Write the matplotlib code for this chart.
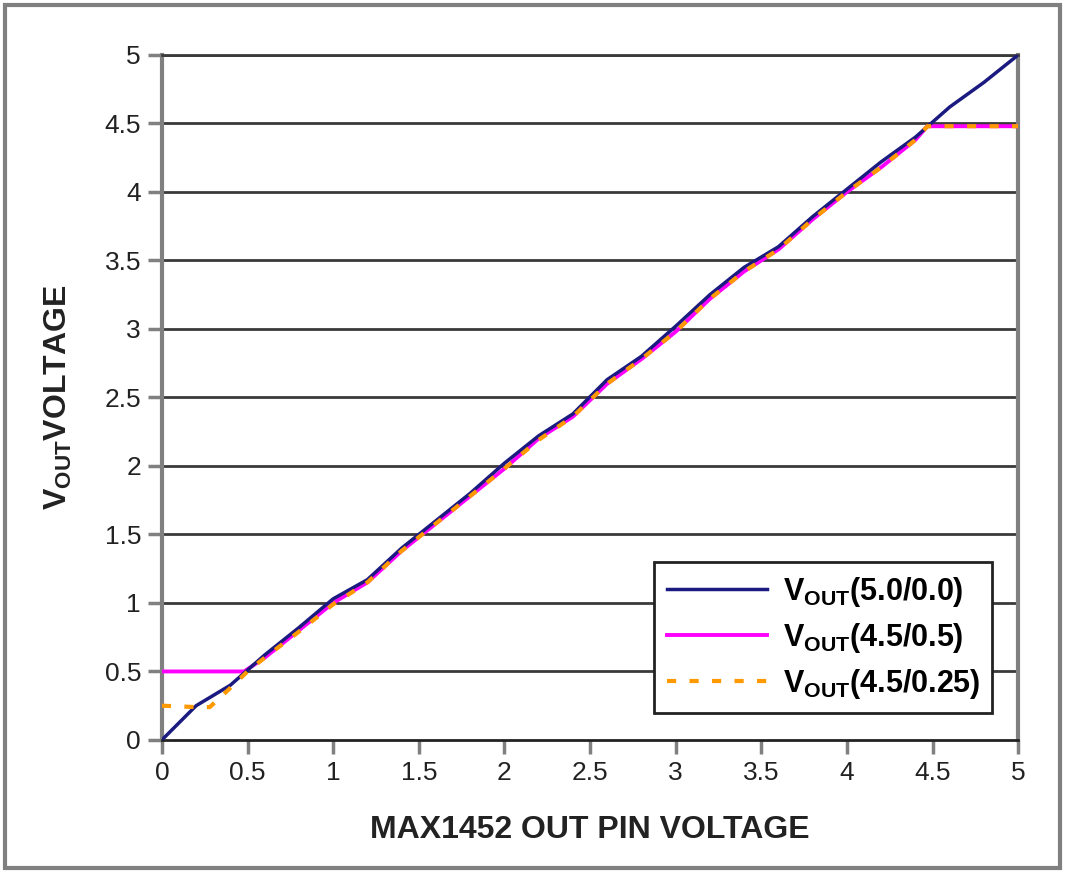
import matplotlib
matplotlib.use("Agg")
import matplotlib.pyplot as plt
from matplotlib.patches import Rectangle

plt.rcParams['font.family'] = ['Liberation Sans', 'DejaVu Sans']
plt.rcParams['mathtext.fontset'] = 'custom'
plt.rcParams['mathtext.rm'] = 'Liberation Sans'
plt.rcParams['mathtext.bf'] = 'Liberation Sans:bold'

# data
x_full = [0, 0.2, 0.4, 0.6, 0.8, 1.0, 1.2, 1.4, 1.6, 1.8, 2.0, 2.2, 2.4, 2.6,
          2.8, 3.0, 3.2, 3.4, 3.6, 3.8, 4.0, 4.2, 4.4, 4.6, 4.8, 5.0]
v_50_00 = [0, 0.25, 0.4, 0.62, 0.82, 1.03, 1.17, 1.4, 1.6, 1.8, 2.02, 2.22, 2.38, 2.63,
           2.8, 3.02, 3.25, 3.45, 3.6, 3.82, 4.02, 4.22, 4.4, 4.62, 4.8, 5.0]

x_mag = [0, 0.2, 0.4, 0.48, 0.6, 0.8, 1.0, 1.2, 1.4, 1.6, 1.8, 2.0, 2.2, 2.4, 2.6,
         2.8, 3.0, 3.2, 3.4, 3.6, 3.8, 4.0, 4.2, 4.4, 4.47, 4.6, 4.8, 5.0]
v_45_05 = [0.5, 0.5, 0.5, 0.5, 0.6, 0.8, 1.0, 1.15, 1.38, 1.58, 1.78, 1.98, 2.2, 2.36, 2.6,
           2.78, 2.98, 3.22, 3.42, 3.58, 3.8, 4.0, 4.18, 4.38, 4.48, 4.48, 4.48, 4.48]

x_org = [0, 0.2, 0.28, 0.4, 0.5, 0.6, 0.8, 1.0, 1.2, 1.4, 1.6, 1.8, 2.0, 2.2, 2.4, 2.6,
         2.8, 3.0, 3.2, 3.4, 3.6, 3.8, 4.0, 4.2, 4.4, 4.47, 4.6, 4.8, 5.0]
v_45_025 = [0.25, 0.24, 0.24, 0.38, 0.5, 0.6, 0.79, 0.99, 1.15, 1.38, 1.58, 1.78, 1.98, 2.19, 2.36, 2.6,
            2.78, 2.98, 3.22, 3.42, 3.58, 3.8, 4.0, 4.18, 4.38, 4.48, 4.48, 4.48, 4.48]

labels = [r'$\mathbf{V_{OUT}}$(5.0/0.0)', r'$\mathbf{V_{OUT}}$(4.5/0.5)', r'$\mathbf{V_{OUT}}$(4.5/0.25)']
ticks = [0, 0.5, 1, 1.5, 2, 2.5, 3, 3.5, 4, 4.5, 5]
tick_labels = ['0', '0.5', '1', '1.5', '2', '2.5', '3', '3.5', '4', '4.5', '5']

fig = plt.figure(figsize=(10.65, 8.73), dpi=100)
ax = fig.add_axes([0.152, 0.1524, 0.804, 0.7846])

for t in ticks[1:]:
    ax.axhline(t, color='#3a3a3a', lw=2, zorder=1)

ax.plot(x_mag, v_45_05, color='#ff00ff', lw=2.8, zorder=3, label=labels[1])
ax.plot(x_full, v_50_00, color='#1a1a80', lw=2.5, zorder=4, label=labels[0])
ax.plot(x_org, v_45_025, color='#ff9900', lw=3, ls=(0, (2.2, 3.2)), zorder=5, label=labels[2])

ax.set_xlim(0, 5)
ax.set_ylim(0, 5)
ax.set_xticks(ticks)
ax.set_xticklabels(tick_labels)
ax.set_yticks(ticks)
ax.set_yticklabels(tick_labels)
ax.tick_params(axis='both', direction='out', length=10, width=2.5, color='#808080',
               labelsize=19, labelcolor='#222222', pad=5)
for s in ['left', 'right']:
    ax.spines[s].set_color('#808080')
    ax.spines[s].set_linewidth(3)
ax.spines['top'].set_color('#3a3a3a')
ax.spines['top'].set_linewidth(2)
ax.spines['bottom'].set_color('#222222')
ax.spines['bottom'].set_linewidth(2)

ax.set_xlabel('MAX1452 OUT PIN VOLTAGE', fontsize=23, fontweight='bold', color='#222222', labelpad=22)
ax.set_ylabel(r'$\mathbf{V_{OUT}}$VOLTAGE', fontsize=23, fontweight='bold', color='#222222', labelpad=22)

h, l = ax.get_legend_handles_labels()
order = [1, 0, 2]
leg = ax.legend([h[i] for i in order], [l[i] for i in order], loc='lower right',
                bbox_to_anchor=(0.97, 0.039), borderaxespad=0, fancybox=False, framealpha=1,
                edgecolor='#222222', prop={'size': 22, 'weight': 'bold'},
                handlelength=3.3, handletextpad=0.5, borderpad=0.4, labelspacing=0.4)
leg.get_frame().set_linewidth(2)
leg.set_zorder(10)

fig.patches.append(Rectangle((0.005, 0.006), 0.99, 0.988, transform=fig.transFigure,
                             fill=False, edgecolor='#808080', lw=3))

fig.savefig('out.png', dpi=100)
